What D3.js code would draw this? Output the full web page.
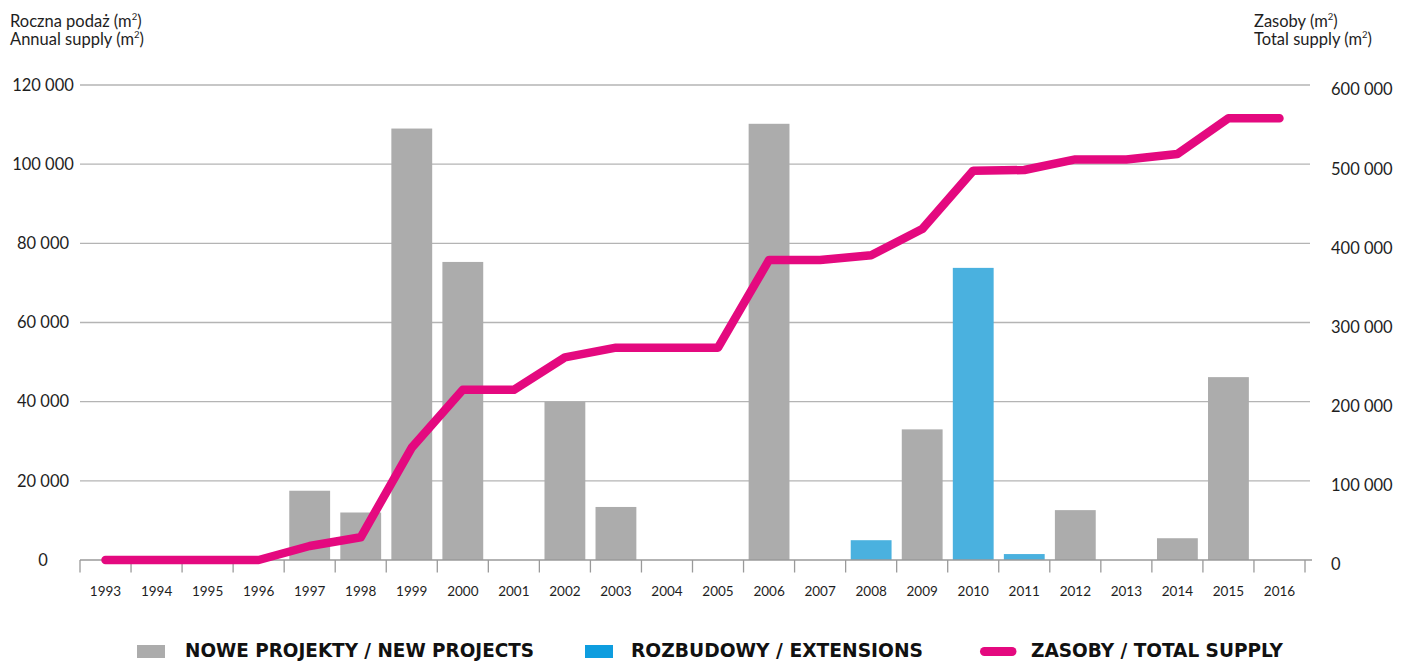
<!DOCTYPE html>
<html>
<head>
<meta charset="utf-8">
<script src="https://cdn.jsdelivr.net/npm/d3@7"></script>
<style>
  html, body { margin: 0; padding: 0; background: #fff; }
  svg { display: block; }
  .tick-label { font-family: Lato, "Open Sans", sans-serif; fill: #1e1e1e; }
  .legend-text { font-family: "Liberation Sans Narrow", "DejaVu Sans Condensed", sans-serif; font-weight: bold; fill: #111; }
</style>
</head>
<body>
<svg id="chart" width="1402" height="661"></svg>
<script>
// Years shown on the category axis
const years = [1993, 1994, 1995, 1996, 1997, 1998, 1999, 2000, 2001, 2002, 2003, 2004,
               2005, 2006, 2007, 2008, 2009, 2010, 2011, 2012, 2013, 2014, 2015, 2016];

// Annual supply of new projects (m²)
const newProjects = [0, 0, 0, 0, 17500, 12000, 109000, 75300, 0, 40000, 13400, 0,
                     0, 110200, 0, 0, 33000, 0, 0, 12600, 0, 5500, 46200, 0];

// Annual supply from extensions (m²)
const extensions = [0, 0, 0, 0, 0, 0, 0, 0, 0, 0, 0, 0,
                    0, 0, 0, 5000, 0, 73800, 1500, 0, 0, 0, 0, 0];

// Total stock at year end (m²)
const totalSupply = [0, 0, 0, 0, 17700, 28700, 142000, 215000, 215000, 256000, 268200, 268200,
                     268200, 379000, 379000, 385000, 418000, 491800, 492600, 506000, 506000, 512800, 558000, 558000];

// Axis ticks
const leftTicks = [0, 20000, 40000, 60000, 80000, 100000, 120000];
const rightTicks = [0, 100000, 200000, 300000, 400000, 500000, 600000];

const legendItems = [
  { label: "NOWE PROJEKTY / NEW PROJECTS", kind: "rect", color: "#acacac" },
  { label: "ROZBUDOWY / EXTENSIONS", kind: "rect", color: "#0e9ddf" },
  { label: "ZASOBY / TOTAL SUPPLY", kind: "line", color: "#e4097f" }
];

const colors = { newProjects: "#acacac", extensions: "#4ab1df", total: "#e4097f", grid: "#b4b4b4", axis: "#9a9a9a" };

const svg = d3.select("#chart");
const plot = { left: 80, right: 1305, top: 85, bottom: 560 };

const fmt = d3.formatLocale({ decimal: ",", thousands: " ", grouping: [3], currency: ["", ""] }).format(",");

const x = d3.scaleBand().domain(years).range([plot.left, plot.right]).padding(0);
const step = x.step();
const barInset = step * 0.1;
const yLeft = d3.scaleLinear().domain([0, 120000]).range([plot.bottom, plot.top]);
const yRight = d3.scaleLinear().domain([0, 600000]).range([plot.bottom, plot.top]);

// Horizontal gridlines
svg.append("g")
  .selectAll("line")
  .data(leftTicks.filter(d => d > 0))
  .join("line")
  .attr("x1", plot.left)
  .attr("x2", 1310)
  .attr("y1", d => yLeft(d))
  .attr("y2", d => yLeft(d))
  .attr("stroke", colors.grid)
  .attr("stroke-width", 1.3);

// Left axis labels
const leftAxis = svg.append("g")
  .attr("transform", `translate(${plot.left},0)`)
  .call(d3.axisLeft(yLeft).tickValues(leftTicks).tickFormat(fmt).tickSize(0).tickPadding(0));
leftAxis.select(".domain").remove();
leftAxis.selectAll("text")
  .attr("class", "tick-label")
  .attr("x", -37)
  .attr("text-anchor", "middle")
  .attr("font-size", 16.5);

// Right axis labels
const rightAxis = svg.append("g")
  .attr("transform", `translate(${plot.right},0)`)
  .call(d3.axisRight(yRight).tickValues(rightTicks).tickFormat(fmt).tickSize(0).tickPadding(0));
rightAxis.select(".domain").remove();
rightAxis.selectAll("text")
  .attr("class", "tick-label")
  .attr("x", 26)
  .attr("dy", "0.6em")
  .attr("text-anchor", "start")
  .attr("font-size", 16.5);

// Bars: new projects
svg.append("g")
  .selectAll("rect")
  .data(years.map((y, i) => ({ year: y, v: newProjects[i] })).filter(d => d.v > 0))
  .join("rect")
  .attr("x", d => x(d.year) + barInset)
  .attr("width", step - 2 * barInset)
  .attr("y", d => yLeft(d.v))
  .attr("height", d => yLeft(0) - yLeft(d.v))
  .attr("fill", colors.newProjects);

// Bars: extensions
svg.append("g")
  .selectAll("rect")
  .data(years.map((y, i) => ({ year: y, v: extensions[i] })).filter(d => d.v > 0))
  .join("rect")
  .attr("x", d => x(d.year) + barInset)
  .attr("width", step - 2 * barInset)
  .attr("y", d => yLeft(d.v))
  .attr("height", d => yLeft(0) - yLeft(d.v))
  .attr("fill", colors.extensions);

// Baseline and category ticks
svg.append("line")
  .attr("x1", plot.left).attr("x2", 1312)
  .attr("y1", yLeft(0)).attr("y2", yLeft(0))
  .attr("stroke", colors.axis).attr("stroke-width", 1.5);

const boundaries = years.map(y => x(y)).concat([x(years[years.length - 1]) + step]);
svg.append("g")
  .selectAll("line")
  .data(boundaries)
  .join("line")
  .attr("x1", d => d).attr("x2", d => d)
  .attr("y1", yLeft(0)).attr("y2", yLeft(0) + 12.5)
  .attr("stroke", colors.axis).attr("stroke-width", 1.3);

const bottomAxis = svg.append("g")
  .attr("transform", `translate(0,${plot.bottom})`)
  .call(d3.axisBottom(x).tickSize(0).tickPadding(26));
bottomAxis.select(".domain").remove();
bottomAxis.selectAll("text")
  .attr("class", "tick-label")
  .attr("font-size", 13.5)
  .attr("fill", "#333");

// Total supply line
const line = d3.line()
  .x((d, i) => x(years[i]) + step / 2)
  .y(d => yRight(d));
svg.append("path")
  .datum(totalSupply)
  .attr("d", line)
  .attr("fill", "none")
  .attr("stroke", colors.total)
  .attr("stroke-width", 8.5)
  .attr("stroke-linecap", "round")
  .attr("stroke-linejoin", "round");

// Axis titles, one text element per row
function title(xPos, lines) {
  lines.forEach((txt, i) => {
    const row = svg.append("text")
      .attr("class", "tick-label")
      .attr("font-size", 16.5)
      .attr("fill", "#1e1e1e")
      .attr("x", xPos)
      .attr("y", 26.5 + i * 18);
    row.append("tspan").text(txt + " (m");
    row.append("tspan").attr("font-size", 9.5).attr("dy", -6.5).text("2");
    row.append("tspan").attr("dy", 6.5).text(")");
  });
}
title(10, ["Roczna podaż", "Annual supply"]);
title(1254, ["Zasoby", "Total supply"]);

// Legend
const legendPos = [
  { sx: 137, tx: 185, tw: 349 },
  { sx: 585, tx: 631, tw: 292 },
  { sx: 980, tx: 1031, tw: 252 }
];
const legend = svg.append("g");
legendItems.forEach((item, i) => {
  const p = legendPos[i];
  if (item.kind === "rect") {
    legend.append("rect")
      .attr("x", p.sx).attr("y", 645)
      .attr("width", 28).attr("height", 13)
      .attr("fill", item.color);
  } else {
    legend.append("line")
      .attr("x1", p.sx + 4.5).attr("x2", p.sx + 32)
      .attr("y1", 651.5).attr("y2", 651.5)
      .attr("stroke", item.color).attr("stroke-width", 9)
      .attr("stroke-linecap", "round");
  }
  legend.append("text")
    .attr("class", "legend-text")
    .attr("x", p.tx).attr("y", 657)
    .attr("font-size", 19)
    .attr("textLength", p.tw)
    .attr("lengthAdjust", "spacingAndGlyphs")
    .text(item.label);
});
</script>
</body>
</html>
